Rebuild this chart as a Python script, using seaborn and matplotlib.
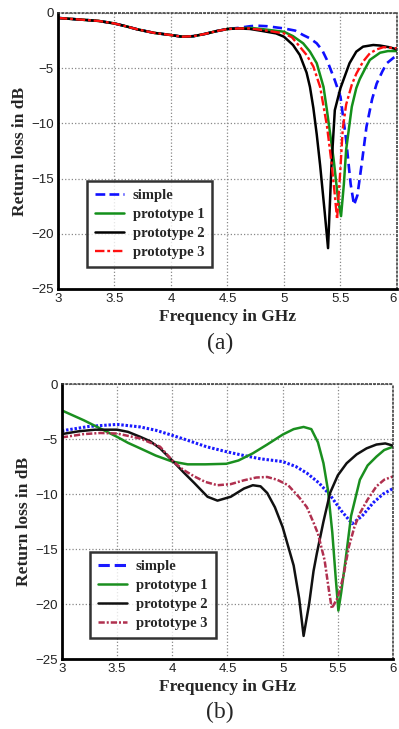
import seaborn as sns
import matplotlib.pyplot as plt
import pandas as pd
import numpy as np

# ---------------- data ----------------
# (a) measured return loss
a_simple_f = [3.0, 3.2, 3.36, 3.5, 3.6, 3.71, 3.85, 4.0, 4.1, 4.2, 4.3, 4.4, 4.5, 4.6,
              4.7, 4.76, 4.85, 5.0, 5.1, 5.17, 5.23, 5.29, 5.34, 5.38, 5.45, 5.5, 5.55,
              5.59, 5.62, 5.65, 5.69, 5.73, 5.78, 5.82, 5.87, 5.91, 5.97, 6.0]
a_simple_db = [-0.45, -0.6, -0.72, -0.95, -1.2, -1.5, -1.8, -2.0, -2.15, -2.1, -1.9, -1.65, -1.45, -1.35,
               -1.2, -1.15, -1.2, -1.4, -1.6, -2.0, -2.3, -2.75, -3.4, -4.25, -6.1, -7.6, -11.5,
               -15.5, -17.4, -16.5, -13.5, -10.3, -7.8, -6.4, -5.3, -4.55, -4.05, -3.9]

a_proto1_f = [3.0, 3.2, 3.36, 3.5, 3.6, 3.71, 3.85, 4.0, 4.1, 4.2, 4.3, 4.4, 4.5, 4.6,
              4.7, 4.8, 5.0, 5.08, 5.17, 5.23, 5.29, 5.35, 5.38, 5.44, 5.48, 5.505, 5.53,
              5.55, 5.6, 5.64, 5.67, 5.72, 5.76, 5.85, 5.92, 6.0]
a_proto1_db = [-0.45, -0.6, -0.72, -0.95, -1.2, -1.5, -1.8, -2.0, -2.15, -2.1, -1.9, -1.65, -1.45, -1.4,
               -1.35, -1.45, -1.7, -2.1, -2.75, -3.5, -4.55, -6.7, -8.8, -13.3, -17.0, -18.4, -15.5,
               -12.4, -8.5, -6.8, -6.0, -5.0, -4.25, -3.6, -3.45, -3.45]

a_proto2_f = [3.0, 3.2, 3.36, 3.5, 3.6, 3.71, 3.85, 4.0, 4.1, 4.2, 4.3, 4.4, 4.5, 4.6,
              4.7, 4.79, 4.93, 5.0, 5.08, 5.14, 5.2, 5.23, 5.26, 5.29, 5.32, 5.36, 5.39,
              5.42, 5.45, 5.5, 5.58, 5.64, 5.7, 5.79, 5.85, 5.93, 6.0]
a_proto2_db = [-0.45, -0.6, -0.72, -0.95, -1.2, -1.5, -1.8, -2.0, -2.15, -2.1, -1.9, -1.65, -1.45, -1.4,
               -1.45, -1.6, -1.85, -2.15, -2.9, -3.8, -5.4, -6.7, -8.6, -11.0, -13.8, -18.0, -21.3,
               -13.9, -8.8, -6.8, -4.55, -3.5, -3.05, -2.9, -2.95, -3.1, -3.3]

a_proto3_f = [3.0, 3.2, 3.36, 3.5, 3.6, 3.71, 3.85, 4.0, 4.1, 4.2, 4.3, 4.4, 4.5, 4.6,
              4.7, 4.85, 5.0, 5.07, 5.14, 5.2, 5.26, 5.32, 5.38, 5.42, 5.45, 5.47, 5.5,
              5.52, 5.55, 5.6, 5.64, 5.7, 5.76, 5.82, 5.88, 6.0]
a_proto3_db = [-0.45, -0.6, -0.72, -0.95, -1.2, -1.5, -1.8, -2.0, -2.15, -2.1, -1.9, -1.65, -1.45, -1.4,
               -1.4, -1.6, -1.85, -2.2, -3.05, -3.8, -4.85, -6.7, -10.2, -13.5, -16.5, -18.7, -14.0,
               -10.5, -8.3, -6.5, -5.5, -4.4, -3.65, -3.3, -3.1, -3.2]

# (b) simulated return loss
b_simple_f = [3.0, 3.25, 3.5, 3.71, 3.85, 3.98, 4.12, 4.31, 4.49, 4.65, 4.8, 5.0, 5.12,
              5.22, 5.33, 5.43, 5.53, 5.63, 5.72, 5.82, 5.91, 6.0]
b_simple_db = [-4.25, -3.85, -3.67, -3.9, -4.2, -4.6, -5.05, -5.7, -6.15, -6.5, -6.8, -7.05, -7.5,
               -8.1, -9.0, -10.1, -11.5, -12.7, -12.0, -10.8, -10.0, -9.5]

b_proto1_f = [3.0, 3.1, 3.2, 3.3, 3.4, 3.5, 3.6, 3.71, 3.85, 4.0, 4.14, 4.3, 4.49, 4.6,
              4.73, 4.86, 5.0, 5.1, 5.19, 5.26, 5.32, 5.37, 5.41, 5.45, 5.48, 5.505, 5.53,
              5.57, 5.62, 5.7, 5.77, 5.85, 5.92, 6.0]
b_proto1_db = [-2.4, -2.85, -3.3, -3.8, -4.3, -4.8, -5.35, -5.85, -6.5, -7.05, -7.3, -7.3, -7.25, -6.95,
               -6.3, -5.5, -4.6, -4.1, -3.9, -4.1, -5.3, -7.2, -9.6, -13.5, -17.5, -20.6, -19.0,
               -16.0, -12.0, -8.7, -7.4, -6.6, -6.0, -5.7]

b_proto2_f = [3.0, 3.15, 3.3, 3.5, 3.6, 3.71, 3.8, 3.89, 4.01, 4.1, 4.2, 4.32, 4.41, 4.53,
              4.65, 4.73, 4.8, 4.86, 4.93, 5.0, 5.1, 5.15, 5.19, 5.24, 5.28, 5.31, 5.37,
              5.43, 5.5, 5.58, 5.67, 5.76, 5.85, 5.93, 6.0]
b_proto2_db = [-4.55, -4.3, -4.15, -4.15, -4.35, -4.8, -5.2, -5.85, -7.05, -8.0, -9.0, -10.25, -10.6, -10.25,
               -9.5, -9.2, -9.3, -9.9, -11.2, -13.0, -16.5, -19.5, -22.9, -20.0, -17.0, -15.4, -12.5,
               -9.9, -8.3, -7.2, -6.4, -5.85, -5.5, -5.4, -5.6]

b_proto3_f = [3.0, 3.2, 3.35, 3.5, 3.71, 3.89, 4.01, 4.1, 4.2, 4.3, 4.41, 4.53, 4.65, 4.76,
              4.86, 4.95, 5.05, 5.15, 5.22, 5.28, 5.32, 5.38, 5.42, 5.445, 5.5, 5.55, 5.6,
              5.65, 5.7, 5.77, 5.85, 5.92, 6.0]
b_proto3_db = [-4.85, -4.55, -4.45, -4.5, -4.95, -5.7, -7.05, -7.8, -8.4, -8.9, -9.2, -9.1, -8.75, -8.5,
               -8.45, -8.7, -9.2, -10.3, -11.2, -12.6, -13.6, -16.0, -18.8, -20.4, -19.4, -17.5, -14.8,
               -13.0, -11.75, -10.5, -9.3, -8.7, -8.4]

labels = ['simple', 'prototype 1', 'prototype 2', 'prototype 3']
x_ticks = [3, 3.5, 4, 4.5, 5, 5.5, 6]
x_tick_labels = ['3', '3.5', '4', '4.5', '5', '5.5', '6']
y_ticks = [0, -5, -10, -15, -20, -25]

# ---------------- styling ----------------
sns.set_style('white')
plt.rcParams['font.family'] = ['Liberation Sans', 'DejaVu Sans']
serif_bold = {'family': 'Liberation Serif', 'weight': 'bold', 'size': 12.5}

fig = plt.figure(figsize=(3.99, 7.29), dpi=100)
ax_a = fig.add_axes([0.145, 0.6036, 0.850, 0.3786])
ax_b = fig.add_axes([0.155, 0.096, 0.830, 0.3772])

series_a = [(a_simple_f, a_simple_db, '#1010ff', (0, (3.5, 2.0)), 1.9),
            (a_proto1_f, a_proto1_db, '#13901a', '-', 1.8),
            (a_proto2_f, a_proto2_db, '#000000', '-', 1.8),
            (a_proto3_f, a_proto3_db, '#ff1010', (0, (4, 1.2, 1.2, 1.2)), 1.7)]

series_b = [(b_simple_f, b_simple_db, '#1a1aff', (0, (0.8, 0.6)), 2.2),
            (b_proto1_f, b_proto1_db, '#1a8f1f', '-', 1.8),
            (b_proto2_f, b_proto2_db, '#111111', '-', 1.8),
            (b_proto3_f, b_proto3_db, '#b0304f', (0, (2.5, 0.8, 0.8, 0.8)), 1.8)]


def draw_panel(ax, series, legend_xy, tag, tag_y):
    for (f, db, col, ls, lw), lab in zip(series, labels):
        df = pd.DataFrame({'freq': f, 'rl': db})
        sns.lineplot(data=df, x='freq', y='rl', ax=ax, color=col, linestyle=ls,
                     linewidth=lw, label=lab, estimator=None, sort=False)

    ax.set_xlim(3, 6)
    ax.set_ylim(-25, 0)
    ax.set_xticks(x_ticks)
    ax.set_xticklabels(x_tick_labels)
    ax.set_yticks(y_ticks)
    ax.tick_params(labelsize=9.5, length=0, pad=3, colors='#222222')
    ax.grid(True, linestyle=':', color='#888888', linewidth=0.9)

    for side in ['left', 'bottom']:
        ax.spines[side].set_linewidth(2.0)
        ax.spines[side].set_color('black')
    for side in ['top', 'right']:
        ax.spines[side].set_linewidth(1.1)
        ax.spines[side].set_linestyle(':')
        ax.spines[side].set_color('#333333')

    ax.set_xlabel('Frequency in GHz', fontdict=serif_bold, labelpad=3)
    ax.set_ylabel('Return loss in dB', fontdict=serif_bold, labelpad=2)

    leg = ax.legend(loc='lower left', bbox_to_anchor=legend_xy, borderaxespad=0,
                    prop={'family': 'Liberation Serif', 'weight': 'bold', 'size': 10.5},
                    frameon=True, fancybox=False, handlelength=2.0,
                    labelspacing=0.4, borderpad=0.55, handletextpad=0.6)
    leg.get_frame().set_edgecolor('black')
    leg.get_frame().set_linewidth(1.8)
    leg.get_lines()[0].set_linestyle('--')
    ax.set_axisbelow(True)

    fig.text(0.551, tag_y, tag, ha='center', va='center',
             family='Liberation Serif', fontsize=17)


draw_panel(ax_a, series_a, (0.0855, 0.08), '(a)', 1 - 343 / 729)
draw_panel(ax_b, series_b, (0.085, 0.076), '(b)', 1 - 712 / 729)

# the last tick label of (a) sits at the figure edge; keep it inside
ax_a.get_xticklabels()[-1].set_horizontalalignment('right')

plt.savefig('out.png', dpi=100)
